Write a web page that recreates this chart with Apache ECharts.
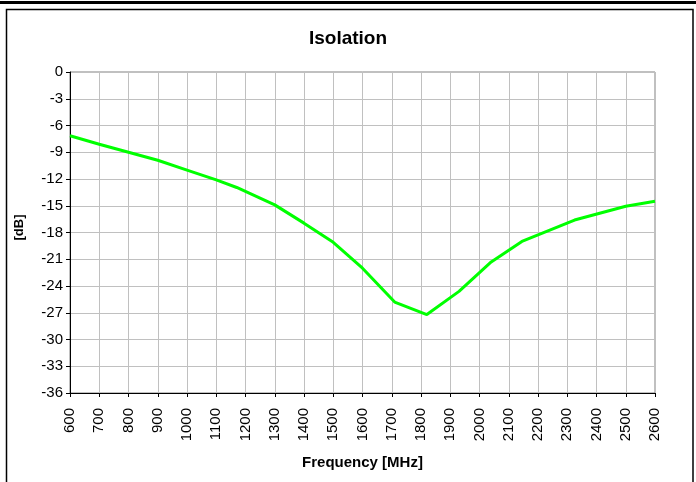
<!DOCTYPE html>
<html>
<head>
<meta charset="utf-8">
<script src="https://cdn.jsdelivr.net/npm/echarts@6/dist/echarts.min.js"></script>
<style>html,body{margin:0;padding:0;background:#fff;}#c{width:696px;height:482px;}</style>
</head>
<body>
<div id="c"></div>
<script>
const frequencies = [600, 700, 800, 900, 1000, 1100, 1170, 1300, 1400, 1500, 1600, 1710, 1820, 1930, 2040, 2145, 2325, 2500, 2600];
const isolation = [-7.15, -8.1, -9.0, -9.9, -11.0, -12.1, -12.95, -14.9, -16.95, -19.1, -22.0, -25.8, -27.2, -24.6, -21.3, -19.0, -16.6, -15.05, -14.5];
const titleText = 'Isolation';
const xName = 'Frequency [MHz]';
const yName = '[dB]';

const seriesData = frequencies.map((f, i) => [f, isolation[i]]);
const font = 'Liberation Sans, Arial, sans-serif';

const chart = echarts.init(document.getElementById('c'), null, {renderer: 'canvas'});
chart.setOption({
  animation: false,
  backgroundColor: '#fff',
  title: {
    text: titleText, left: 'center', top: 24,
    textStyle: {fontFamily: font, fontSize: 19, fontWeight: 'bold', color: '#000'}
  },
  grid: {left: 70, right: 41, top: 72, bottom: 89, show: true, borderColor: '#808080', borderWidth: 1},
  xAxis: {
    type: 'value', min: 600, max: 2600, interval: 100,
    name: xName, nameLocation: 'middle', nameGap: 62,
    nameTextStyle: {fontFamily: font, fontSize: 15, fontWeight: 'bold', color: '#000'},
    axisLine: {show: true, onZero: false, lineStyle: {color: '#000', width: 1}},
    axisTick: {show: true, length: 4, lineStyle: {color: '#000'}},
    axisLabel: {rotate: 90, fontFamily: font, fontSize: 15, color: '#000', margin: 15,
      formatter: v => String(v)},
    splitLine: {show: true, lineStyle: {color: '#c0c0c0', width: 1}}
  },
  yAxis: {
    type: 'value', min: -36, max: 0, interval: 3,
    name: yName, nameLocation: 'middle', nameGap: 44, nameRotate: 90,
    nameTextStyle: {fontFamily: font, fontSize: 13, fontWeight: 'bold', color: '#000', padding: [0, 0, 0, 10]},
    axisLine: {show: true, onZero: false, lineStyle: {color: '#000', width: 1}},
    axisTick: {show: true, length: 4, lineStyle: {color: '#000'}},
    axisLabel: {fontFamily: font, fontSize: 15, color: '#000', margin: 7,
      formatter: v => String(v)},
    splitLine: {show: true, lineStyle: {color: '#c0c0c0', width: 1}}
  },
  series: [{
    type: 'line', data: seriesData, showSymbol: false, symbol: 'none',
    lineStyle: {color: '#00ff00', width: 3}, z: 5
  }],
  graphic: [
    {type: 'line', shape: {x1: 0, y1: 2.5, x2: 696, y2: 2.5}, style: {stroke: '#000', lineWidth: 3}, silent: true},
    {type: 'rect', shape: {x: 6.5, y: 9.5, width: 686.5, height: 480}, style: {fill: null, stroke: '#000', lineWidth: 1.5}, silent: true}
  ]
});
</script>
</body>
</html>
